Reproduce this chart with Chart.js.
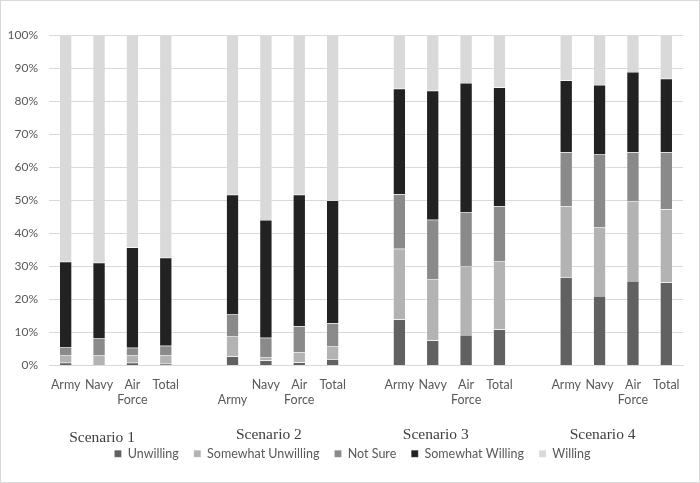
<!DOCTYPE html>
<html>
<head>
<meta charset="utf-8">
<script src="https://cdn.jsdelivr.net/npm/chart.js@4.4.0/dist/chart.umd.min.js"></script>
<style>
    html, body { margin: 0; padding: 0; background: #fff; }
    #wrap { width: 698px; height: 481px; border: 1px solid #d9d9d9; }
</style>
</head>
<body>
<div id="wrap"><canvas id="chart" width="698" height="481"></canvas></div>
<script>
// Categories (gaps between scenarios are empty slots)
const categories = [
    'Army', 'Navy', ['Air', 'Force'], 'Total', '',
    ['', 'Army'], 'Navy', ['Air', 'Force'], 'Total', '',
    'Army', 'Navy', ['Air', 'Force'], 'Total', '',
    'Army', 'Navy', ['Air', 'Force'], 'Total'
];
const scenarios = ['Scenario 1', 'Scenario 2', 'Scenario 3', 'Scenario 4'];
const scenarioStart = [0, 5, 10, 15];

// Percent values per response
const unwilling         = [0.8, 0.0, 0.8, 0.5, null, 2.7, 1.5, 0.9, 1.9, null, 13.9, 7.6, 9.2, 10.9, null, 26.7, 21.0, 25.6, 25.1];
const somewhatUnwilling = [2.4, 3.2, 2.4, 2.7, null, 6.2, 1.1, 3.0, 4.0, null, 21.4, 18.6, 20.9, 20.7, null, 21.4, 20.9, 24.2, 22.2];
const notSure           = [2.4, 5.1, 2.2, 2.8, null, 6.7, 5.8, 8.0, 6.9, null, 16.5, 17.9, 16.2, 16.6, null, 16.4, 22.1, 14.7, 17.2];
const somewhatWilling   = [25.8, 22.8, 30.3, 26.6, null, 36.1, 35.6, 39.8, 37.1, null, 31.9, 39.0, 39.2, 35.9, null, 21.7, 20.9, 24.3, 22.3];
const willing           = [68.6, 68.9, 64.3, 67.4, null, 48.3, 56.0, 48.3, 50.1, null, 16.3, 16.9, 14.5, 15.9, null, 13.8, 15.1, 11.2, 13.2];

const yTicks = [0, 10, 20, 30, 40, 50, 60, 70, 80, 90, 100];

const axisFont = { family: 'Lato', size: 12.5 };
const textColor = '#595959';

function series(label, data, color) {
    return {
        label: label,
        data: data,
        backgroundColor: color,
        borderColor: 'rgba(255,255,255,0.35)',
        borderWidth: 0.5,
        barPercentage: 0.37,
        categoryPercentage: 1.0
    };
}

// Scenario captions under the axis labels
const scenarioLabels = {
    id: 'scenarioLabels',
    afterDraw(chart) {
        const ctx = chart.ctx;
        const x = chart.scales.x;
        ctx.save();
        ctx.font = '15.5px "Liberation Serif"';
        ctx.fillStyle = '#404040';
        ctx.textAlign = 'center';
        ctx.textBaseline = 'middle';
        scenarios.forEach((name, i) => {
            const px = x.getPixelForValue(scenarioStart[i] + 1) + 3;
            const dy = i === 0 ? 3 : 0;
            ctx.fillText(name, px, chart.chartArea.bottom + 69 + dy);
        });
        ctx.restore();
    }
};

new Chart(document.getElementById('chart').getContext('2d'), {
    type: 'bar',
    data: {
        labels: categories,
        datasets: [
            series('Unwilling', unwilling, '#616161'),
            series('Somewhat Unwilling', somewhatUnwilling, '#b3b3b3'),
            series('Not Sure', notSure, '#8a8a8a'),
            series('Somewhat Willing', somewhatWilling, '#222222'),
            series('Willing', willing, '#d9d9d9')
        ]
    },
    options: {
        responsive: false,
        animation: false,
        layout: { padding: { top: 34, right: 0, bottom: 12, left: 5 } },
        plugins: {
            legend: {
                position: 'bottom',
                labels: {
                    font: axisFont,
                    color: textColor,
                    boxWidth: 7,
                    boxHeight: 7,
                    padding: 15
                }
            },
            tooltip: { enabled: false }
        },
        scales: {
            x: {
                stacked: true,
                grid: { display: false },
                border: { color: '#d9d9d9' },
                ticks: {
                    font: axisFont,
                    color: textColor,
                    autoSkip: false,
                    maxRotation: 0,
                    padding: 4
                },
                afterFit(scale) { scale.height += 21; }
            },
            y: {
                stacked: true,
                min: 0,
                max: 100,
                afterBuildTicks(scale) { scale.ticks = yTicks.map(v => ({ value: v })); },
                afterFit(scale) { scale.width = 43; },
                grid: { color: '#d9d9d9', drawTicks: false },
                border: { display: false },
                ticks: {
                    font: { family: 'Lato', size: 12 },
                    color: textColor,
                    padding: 11,
                    callback: v => v + '%'
                }
            },
            // empty right-hand spacer so the plot ends where the reference does
            spacer: {
                position: 'right',
                grid: { display: false },
                border: { display: false },
                ticks: { display: false },
                afterFit(scale) { scale.width = 16; }
            }
        }
    },
    plugins: [scenarioLabels]
});
</script>
</body>
</html>
